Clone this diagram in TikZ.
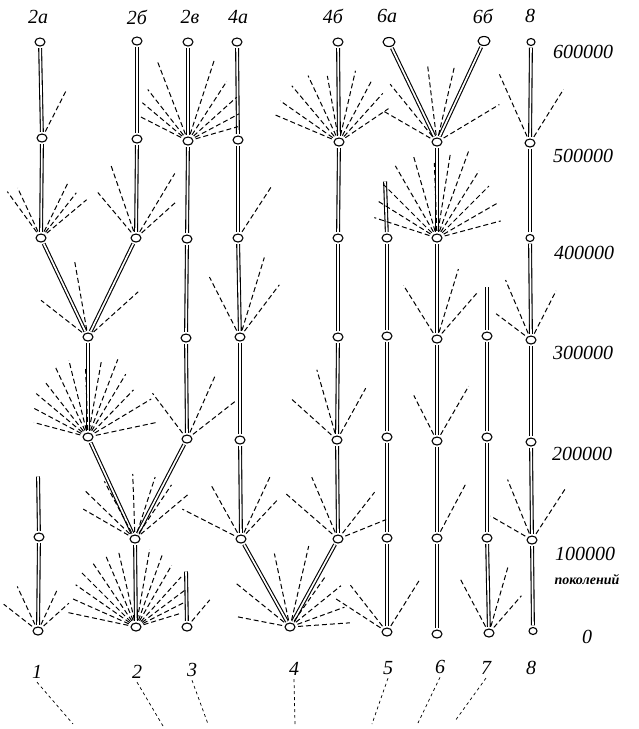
\documentclass[tikz,border=0pt]{standalone}
\usepackage{fontspec}
\setmainfont{Liberation Serif}
\usetikzlibrary{shapes.geometric}
\tikzset{
  pt/.style={ellipse,draw,line width=1.1pt,minimum width=10pt,minimum height=8pt,inner sep=0pt},
  smallpt/.style={pt,minimum width=8pt,minimum height=7pt},
  bigpt/.style={pt,minimum width=12pt,minimum height=9pt},
  stem/.style={double,double distance=1.7pt,line width=1.1pt,shorten >=1.5pt,shorten <=1.5pt},
  ray/.style={line width=1pt,dash pattern=on 5pt off 3pt},
  lab/.style={font=\fontsize{20}{22}\selectfont\itshape},
  num/.style={font=\fontsize{20}{22}\selectfont\itshape},
  guide/.style={line width=0.7pt,dash pattern=on 3pt off 3pt}
}
\newcommand\rays[2]{\foreach \a/\l in {#2}{\draw[ray] (#1.\a) ++(-\a:2.5) -- ++(-\a:\l);}}
\begin{document}
\begin{tikzpicture}[x=1pt,y=-1pt]
\useasboundingbox (0,0) rectangle (639,729);
% column 1
\node[pt] (n1_0) at (38,631) {};
\node[pt] (n1_1) at (39,537) {};
\coordinate (e1) at (38,475);
% column 2
\node[pt] (n2_0) at (136,627) {};
\node[pt] (n2_1) at (135,539) {};
\node[pt] (n2_2) at (88,437) {};
\node[pt] (n2_3) at (88,337) {};
\node[pt] (n2a_4) at (41,238) {};
\node[pt] (n2a_5) at (42,138) {};
\node[pt] (n2a_6) at (40,42) {};
\node[pt] (n2b_4) at (136,238) {};
\node[pt] (n2b_5) at (137,139) {};
\node[pt] (n2b_6) at (137,41) {};
\node[pt] (n2v_2) at (187,439) {};
\node[pt] (n2v_3) at (186,338) {};
\node[pt] (n2v_4) at (187,239) {};
\node[pt] (n2v_5) at (188,141) {};
\node[pt] (n2v_6) at (188,42) {};
% column 3
\node[pt] (n3_0) at (187,627) {};
\coordinate (e3) at (186,570);
% column 4
\node[pt] (n4_0) at (290,627) {};
\node[pt] (n4a_1) at (241,539) {};
\node[pt] (n4a_2) at (240,440) {};
\node[pt] (n4a_3) at (240,337) {};
\node[pt] (n4a_4) at (238,238) {};
\node[pt] (n4a_5) at (238,140) {};
\node[pt] (n4a_6) at (237,42) {};
\node[pt] (n4b_1) at (338,539) {};
\node[pt] (n4b_2) at (337,440) {};
\node[pt] (n4b_3) at (338,337) {};
\node[pt] (n4b_4) at (338,238) {};
\node[pt] (n4b_5) at (339,142) {};
\node[pt] (n4b_6) at (338,42) {};
% column 5
\node[pt] (n5_0) at (387,632) {};
\node[pt] (n5_1) at (387,538) {};
\node[pt] (n5_2) at (387,437) {};
\node[pt] (n5_3) at (387,336) {};
\node[pt] (n5_4) at (387,238) {};
\coordinate (e5) at (385,180);
% column 6
\node[pt] (n6_0) at (437,634) {};
\node[pt] (n6_1) at (437,538) {};
\node[pt] (n6_2) at (437,441) {};
\node[pt] (n6_3) at (437,339) {};
\node[pt] (n6_4) at (437,238) {};
\node[pt] (n6_5) at (437,142) {};
\node[bigpt] (n6a) at (389,42) {};
\node[bigpt] (n6b) at (484,41) {};
% column 7
\node[pt] (n7_0) at (489,633) {};
\node[pt] (n7_1) at (487,538) {};
\node[pt] (n7_2) at (487,437) {};
\node[pt] (n7_3) at (487,336) {};
\coordinate (e7) at (487,285);
% column 8
\node[smallpt] (n8_0) at (533,631) {};
\node[pt] (n8_1) at (532,540) {};
\node[pt] (n8_2) at (531,442) {};
\node[pt] (n8_3) at (531,340) {};
\node[smallpt] (n8_4) at (530,238) {};
\node[pt] (n8_5) at (530,143) {};
\node[smallpt] (n8_6) at (531,42) {};

% stems
\draw[stem] (n1_0) -- (n1_1);
\draw[stem] (n1_1) -- (e1);
\draw[stem] (n2_0) -- (n2_1);
\draw[stem] (n2_1) -- (n2_2);
\draw[stem] (n2_1) -- (n2v_2);
\draw[stem] (n2_2) -- (n2_3);
\draw[stem] (n2_3) -- (n2a_4);
\draw[stem] (n2_3) -- (n2b_4);
\draw[stem] (n2a_4) -- (n2a_5);
\draw[stem] (n2a_5) -- (n2a_6);
\draw[stem] (n2b_4) -- (n2b_5);
\draw[stem] (n2b_5) -- (n2b_6);
\draw[stem] (n2v_2) -- (n2v_3);
\draw[stem] (n2v_3) -- (n2v_4);
\draw[stem] (n2v_4) -- (n2v_5);
\draw[stem] (n2v_5) -- (n2v_6);
\draw[stem] (n3_0) -- (e3);
\draw[stem] (n4_0) -- (n4a_1);
\draw[stem] (n4_0) -- (n4b_1);
\draw[stem] (n4a_1) -- (n4a_2);
\draw[stem] (n4a_2) -- (n4a_3);
\draw[stem] (n4a_3) -- (n4a_4);
\draw[stem] (n4a_4) -- (n4a_5);
\draw[stem] (n4a_5) -- (n4a_6);
\draw[stem] (n4b_1) -- (n4b_2);
\draw[stem] (n4b_2) -- (n4b_3);
\draw[stem] (n4b_3) -- (n4b_4);
\draw[stem] (n4b_4) -- (n4b_5);
\draw[stem] (n4b_5) -- (n4b_6);
\draw[stem] (n5_0) -- (n5_1);
\draw[stem] (n5_1) -- (n5_2);
\draw[stem] (n5_2) -- (n5_3);
\draw[stem] (n5_3) -- (n5_4);
\draw[stem] (n5_4) -- (e5);
\draw[stem] (n6_0) -- (n6_1);
\draw[stem] (n6_1) -- (n6_2);
\draw[stem] (n6_2) -- (n6_3);
\draw[stem] (n6_3) -- (n6_4);
\draw[stem] (n6_4) -- (n6_5);
\draw[stem] (n6_5) -- (n6a);
\draw[stem] (n6_5) -- (n6b);
\draw[stem] (n7_0) -- (n7_1);
\draw[stem] (n7_1) -- (n7_2);
\draw[stem] (n7_2) -- (n7_3);
\draw[stem] (n7_3) -- (e7);
\draw[stem] (n8_0) -- (n8_1);
\draw[stem] (n8_1) -- (n8_2);
\draw[stem] (n8_2) -- (n8_3);
\draw[stem] (n8_3) -- (n8_4);
\draw[stem] (n8_4) -- (n8_5);
\draw[stem] (n8_5) -- (n8_6);

% dashed rays
\rays{n1_0}{142/36,115/42,65/38,42/34}
\rays{n2_0}{168/62,156/64,145/66,135/70,124/70,113/72,103/70,80/72,70/70,60/64,48/60,37/54,27/46,17/40}
\rays{n3_0}{50/28}
\rays{n4_0}{169/46,141/62,102/68,77/76,55/55,39/58,20/50,4/52}
\rays{n5_0}{147/55,128/52,58/55}
\rays{n7_0}{118/55,74/62,49/42}
\rays{n2_1}{150/52,136/62,118/58,92/58,72/58,56/58,40/62}
\rays{n4a_1}{153/58,119/55,65/62,47/45}
\rays{n4b_1}{139/62,113/60,52/52,22/44}
\rays{n6_1}{62/54}
\rays{n8_1}{150/40,112/58,57/55}
\rays{n2_2}{165/48,152/54,140/60,128/64,115/70,104/72,92/62,80/70,69/76,59/66,46/58,31/66,12/62}
\rays{n2v_2}{127/50,66/62,38/56}
\rays{n4b_2}{138/55,106/66,61/52}
\rays{n6_2}{117/44,60/56}
\rays{n2_3}{142/52,100/70,42/60}
\rays{n4a_3}{117/60,73/76,53/58}
\rays{n6_3}{122/56,73/66,49/55}
\rays{n8_3}{143/36,113/58,63/48}
\rays{n2a_4}{126/50,115/48,64/56,52/50,40/52}
\rays{n2b_4}{130/52,109/70,59/68,42/46}
\rays{n4a_4}{57/55}
\rays{n6_4}{162/58,148/62,135/68,120/76,106/78,92/68,81/80,70/86,58/72,45/66,30/62,15/58}
\rays{n2a_5}{63/45}
\rays{n2v_5}{153/45,140/52,128/58,111/78,72/78,57/64,42/58,28/50,16/44}
\rays{n4b_5}{157/62,145/64,130/66,115/66,100/60,77/66,62/62,48/58,34/52}
\rays{n6_5}{150/55,129/67,97/70,77/72,31/65}
\rays{n8_5}{114/68,58/56}

% top labels
\node[lab] (t2a) at (38,17) {2а};
\node[lab] (t2b) at (137,17) {2б};
\node[lab] (t2v) at (190,17) {2в};
\node[lab] (t4a) at (238,17) {4а};
\node[lab] (t4b) at (333,16) {4б};
\node[lab] (t6a) at (387,16) {6а};
\node[lab] (t6b) at (483,16) {6б};
\node[lab] (t8) at (530,16) {8};
% generation scale
\node[num] (g6) at (583,52) {600000};
\node[num] (g5) at (583,156) {500000};
\node[num] (g4) at (584,253) {400000};
\node[num] (g3) at (583,353) {300000};
\node[num] (g2) at (582,454) {200000};
\node[num] (g1) at (585,554) {100000};
\node[font=\fontsize{14}{15}\selectfont\itshape\bfseries] (gp) at (587,580) {поколений};
\node[num] (g0) at (587,637) {0};
% bottom labels
\node[lab] (b1) at (37,672) {1};
\node[lab] (b2) at (137,672) {2};
\node[lab] (b3) at (192,670) {3};
\node[lab] (b4) at (294,669) {4};
\node[lab] (b5) at (388,668) {5};
\node[lab] (b6) at (440,667) {6};
\node[lab] (b7) at (486,668) {7};
\node[lab] (b8) at (531,668) {8};
\coordinate (f1) at (73,724);
\coordinate (f2) at (163,726);
\coordinate (f3) at (208,724);
\coordinate (f4) at (295,724);
\coordinate (f5) at (372,724);
\coordinate (f6) at (418,723);
\coordinate (f7) at (455,721);
\draw[guide] (b1.south) -- (f1);
\draw[guide] (b2.south) -- (f2);
\draw[guide] (b3.south) -- (f3);
\draw[guide] (b4.south) -- (f4);
\draw[guide] (b5.south) -- (f5);
\draw[guide] (b6.south) -- (f6);
\draw[guide] (b7.south) -- (f7);
\end{tikzpicture}
\end{document}
